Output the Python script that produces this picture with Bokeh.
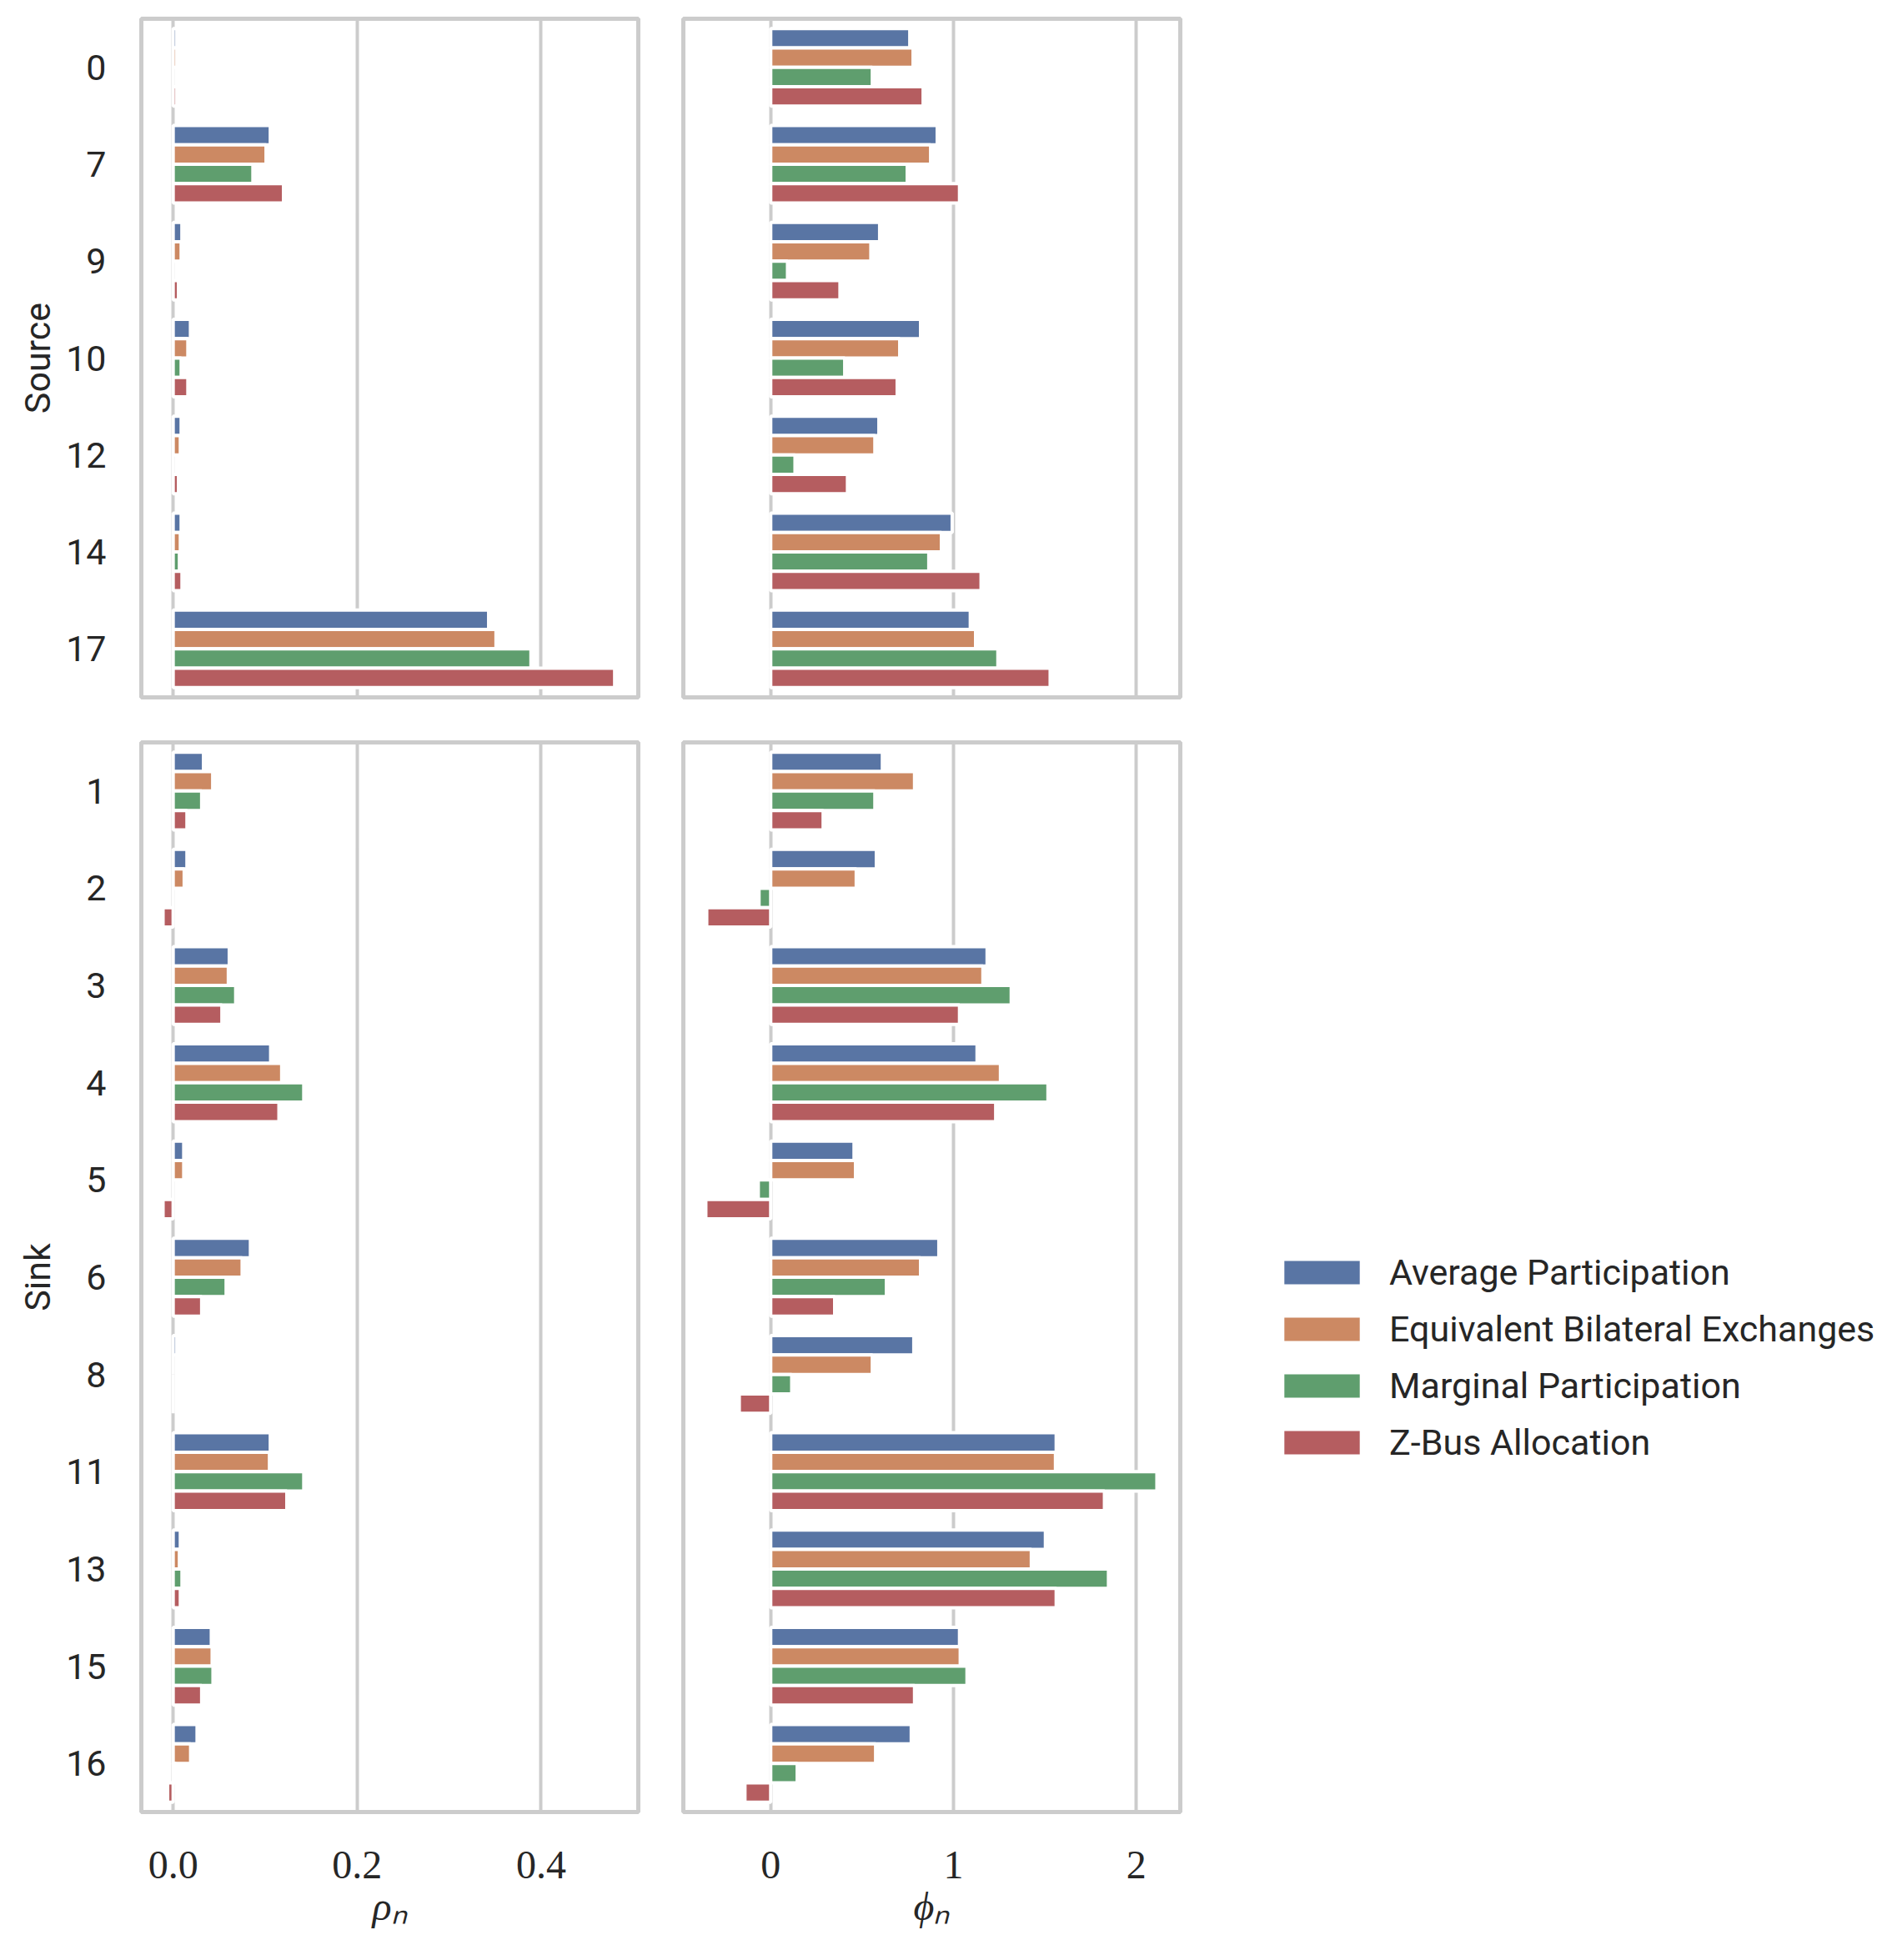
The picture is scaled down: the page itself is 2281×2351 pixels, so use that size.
from bokeh.plotting import figure
from bokeh.models import (ColumnDataSource, FactorRange, Range1d, FixedTicker,
                          Legend, LegendItem, PrintfTickFormatter)
from bokeh.transform import dodge
from bokeh.layouts import column, row
from bokeh.embed import file_html
from bokeh.resources import INLINE

# ---------------- data ----------------
methods = ["Average Participation", "Equivalent Bilateral Exchanges",
           "Marginal Participation", "Z-Bus Allocation"]
colors = ["#5975a4", "#cc8963", "#5f9e6e", "#b55d60"]

source_nodes = ["0", "7", "9", "10", "12", "14", "17"]
sink_nodes = ["1", "2", "3", "4", "5", "6", "8", "11", "13", "15", "16"]

# rho_n  (source)
rho_src_avg = [0.004, 0.1056, 0.0095, 0.0188, 0.0087, 0.0087, 0.343]
rho_src_ebe = [0.004, 0.101, 0.0087, 0.016, 0.0078, 0.0078, 0.351]
rho_src_mp = [0.0, 0.0867, 0.0, 0.0087, 0.0, 0.0068, 0.389]
rho_src_zb = [0.004, 0.120, 0.0058, 0.016, 0.0058, 0.0096, 0.480]

# phi_n  (source)
phi_src_avg = [0.761, 0.911, 0.596, 0.820, 0.592, 0.993, 1.092]
phi_src_ebe = [0.779, 0.875, 0.548, 0.706, 0.570, 0.934, 1.121]
phi_src_mp = [0.556, 0.747, 0.092, 0.405, 0.133, 0.865, 1.243]
phi_src_zb = [0.834, 1.033, 0.379, 0.692, 0.420, 1.151, 1.529]

# rho_n  (sink)
rho_snk_avg = [0.033, 0.015, 0.061, 0.106, 0.0115, 0.084, 0.004, 0.1056, 0.0078, 0.0415, 0.026]
rho_snk_ebe = [0.043, 0.012, 0.060, 0.118, 0.0115, 0.075, 0.0, 0.1047, 0.0068, 0.0424, 0.019]
rho_snk_mp = [0.031, 0.0, 0.068, 0.142, 0.0, 0.0576, 0.0, 0.142, 0.0096, 0.0433, 0.003]
rho_snk_zb = [0.015, -0.011, 0.053, 0.115, -0.011, 0.031, 0.0, 0.1236, 0.0078, 0.031, -0.006]

# phi_n  (sink)
phi_snk_avg = [0.611, 0.578, 1.184, 1.129, 0.456, 0.920, 0.783, 1.562, 1.503, 1.033, 0.769]
phi_snk_ebe = [0.787, 0.468, 1.161, 1.257, 0.464, 0.820, 0.556, 1.558, 1.426, 1.037, 0.574]
phi_snk_mp = [0.570, -0.064, 1.316, 1.517, -0.068, 0.633, 0.115, 2.113, 1.848, 1.074, 0.145]
phi_snk_zb = [0.287, -0.350, 1.033, 1.231, -0.355, 0.350, -0.172, 1.826, 1.562, 0.787, -0.141]

rho_ticks = [0.0, 0.2, 0.4]
phi_ticks = [0, 1, 2]
rho_fmt = "%.1f"
phi_fmt = "%d"
rho_label = "\u03c1\u2099"
phi_label = "\u03d5\u2099"

# ---------------- style ----------------
TXT = "#262626"
GRID = "#cccccc"
SANS = "Roboto"
SERIF = "Liberation Serif"
offsets = [0.3, 0.1, -0.1, -0.3]

y_src = FactorRange(factors=list(reversed(source_nodes)))
y_snk = FactorRange(factors=list(reversed(sink_nodes)))
x_rho = Range1d(-0.0346, 0.5057)
x_phi = Range1d(-0.478, 2.241)


def make_fig(w, h, xr, yr, bl, br, bt, bb):
    p = figure(width=w, height=h, x_range=xr, y_range=yr,
               output_backend="svg", toolbar_location=None)
    p.min_border_left = bl
    p.min_border_right = br
    p.min_border_top = bt
    p.min_border_bottom = bb
    p.background_fill_color = "white"
    p.border_fill_color = "white"
    p.outline_line_color = GRID
    p.outline_line_width = 5
    p.ygrid.visible = False
    p.xgrid.grid_line_color = GRID
    p.xgrid.grid_line_width = 4
    for ax in p.axis:
        ax.axis_line_color = None
        ax.major_tick_line_color = None
        ax.minor_tick_line_color = None
        ax.major_tick_out = 0
        ax.major_tick_in = 0
        ax.minor_tick_out = 0
        ax.minor_tick_in = 0
    return p


def style_x(p, ticks, fmt, label, show):
    p.xaxis.ticker = FixedTicker(ticks=ticks)
    p.xgrid.ticker = FixedTicker(ticks=ticks)
    p.xaxis.formatter = PrintfTickFormatter(format=fmt)
    if show:
        p.xaxis.axis_label = label
        p.xaxis.axis_label_text_font = SERIF
        p.xaxis.axis_label_text_font_style = "italic"
        p.xaxis.axis_label_text_font_size = "48px"
        p.xaxis.axis_label_text_color = TXT
        p.xaxis.axis_label_standoff = 4
        p.xaxis.major_label_text_font = SERIF
        p.xaxis.major_label_text_font_size = "48px"
        p.xaxis.major_label_text_color = TXT
        p.xaxis.major_label_standoff = 47
    else:
        p.xaxis.visible = False


def style_y(p, label, show):
    if show:
        p.yaxis.axis_label = label
        p.yaxis.axis_label_text_font = SANS
        p.yaxis.axis_label_text_font_style = "normal"
        p.yaxis.axis_label_text_font_size = "43px"
        p.yaxis.axis_label_text_color = TXT
        p.yaxis.axis_label_standoff = 6
        p.yaxis.major_label_text_font = SANS
        p.yaxis.major_label_text_font_size = "43px"
        p.yaxis.major_label_text_color = TXT
        p.yaxis.major_label_standoff = 42
    else:
        p.yaxis.visible = False


def add_bars(p, cats, series, yr):
    rends = []
    for vals, col, off in zip(series, colors, offsets):
        src = ColumnDataSource(dict(cat=cats, val=vals))
        r = p.hbar(y=dodge("cat", off, range=yr), left=0, right="val", height=0.2,
                   source=src, fill_color=col, line_color="white", line_width=4)
        rends.append(r)
    return rends


# frames: left column x 177..773, right column 827..1423 ; rows y 30..844, 898..2181
p1 = make_fig(792, 863, x_rho, y_src, 169, 27, 22, 27)
p2 = make_fig(633, 863, x_phi, y_src, 27, 10, 22, 27)
p3 = make_fig(792, 1472, x_rho, y_snk, 169, 27, 27, 162)
p4 = make_fig(633, 1472, x_phi, y_snk, 27, 10, 27, 162)

add_bars(p1, source_nodes, [rho_src_avg, rho_src_ebe, rho_src_mp, rho_src_zb], y_src)
add_bars(p2, source_nodes, [phi_src_avg, phi_src_ebe, phi_src_mp, phi_src_zb], y_src)
add_bars(p3, sink_nodes, [rho_snk_avg, rho_snk_ebe, rho_snk_mp, rho_snk_zb], y_snk)
add_bars(p4, sink_nodes, [phi_snk_avg, phi_snk_ebe, phi_snk_mp, phi_snk_zb], y_snk)

style_x(p1, rho_ticks, rho_fmt, rho_label, False)
style_x(p2, phi_ticks, phi_fmt, phi_label, False)
style_x(p3, rho_ticks, rho_fmt, rho_label, True)
style_x(p4, phi_ticks, phi_fmt, phi_label, True)
style_y(p1, "Source", True)
style_y(p2, "", False)
style_y(p3, "Sink", True)
style_y(p4, "", False)

# ---------------- legend (own canvas, right of the sink panels) ----------------
pleg = figure(width=840, height=1472, x_range=Range1d(0, 1), y_range=Range1d(0, 1),
              x_axis_type=None, y_axis_type=None,
              output_backend="svg", toolbar_location=None)
pleg.min_border_left = 0
pleg.min_border_right = 0
pleg.min_border_top = 0
pleg.min_border_bottom = 0
pleg.outline_line_color = None
pleg.background_fill_color = "white"
pleg.border_fill_color = "white"
nan = float("nan")
leg_src = ColumnDataSource(dict(y=[nan] * len(methods), v=[nan] * len(methods),
                                color=colors, label=methods))
leg_r = pleg.hbar(y="y", left=0, right="v", height=0.2, source=leg_src,
                  fill_color="color", line_color="white", line_width=4)
leg_items = [LegendItem(label=m, renderers=[leg_r], index=i) for i, m in enumerate(methods)]

legend = Legend(items=leg_items)
legend.location = (101, 409)
legend.glyph_width = 118
legend.glyph_height = 40
legend.label_standoff = 22
legend.label_height = 68
legend.spacing = 0
legend.padding = 0
legend.margin = 0
legend.border_line_color = None
legend.background_fill_alpha = 0
legend.label_text_font = SANS
legend.label_text_font_size = "43px"
legend.label_text_color = TXT
pleg.add_layout(legend, "center")

layout = column(row(p1, p2), row(p3, p4, pleg))
layout.spacing = 0

with open("out.html", "w") as f:
    f.write(file_html(layout, INLINE))
